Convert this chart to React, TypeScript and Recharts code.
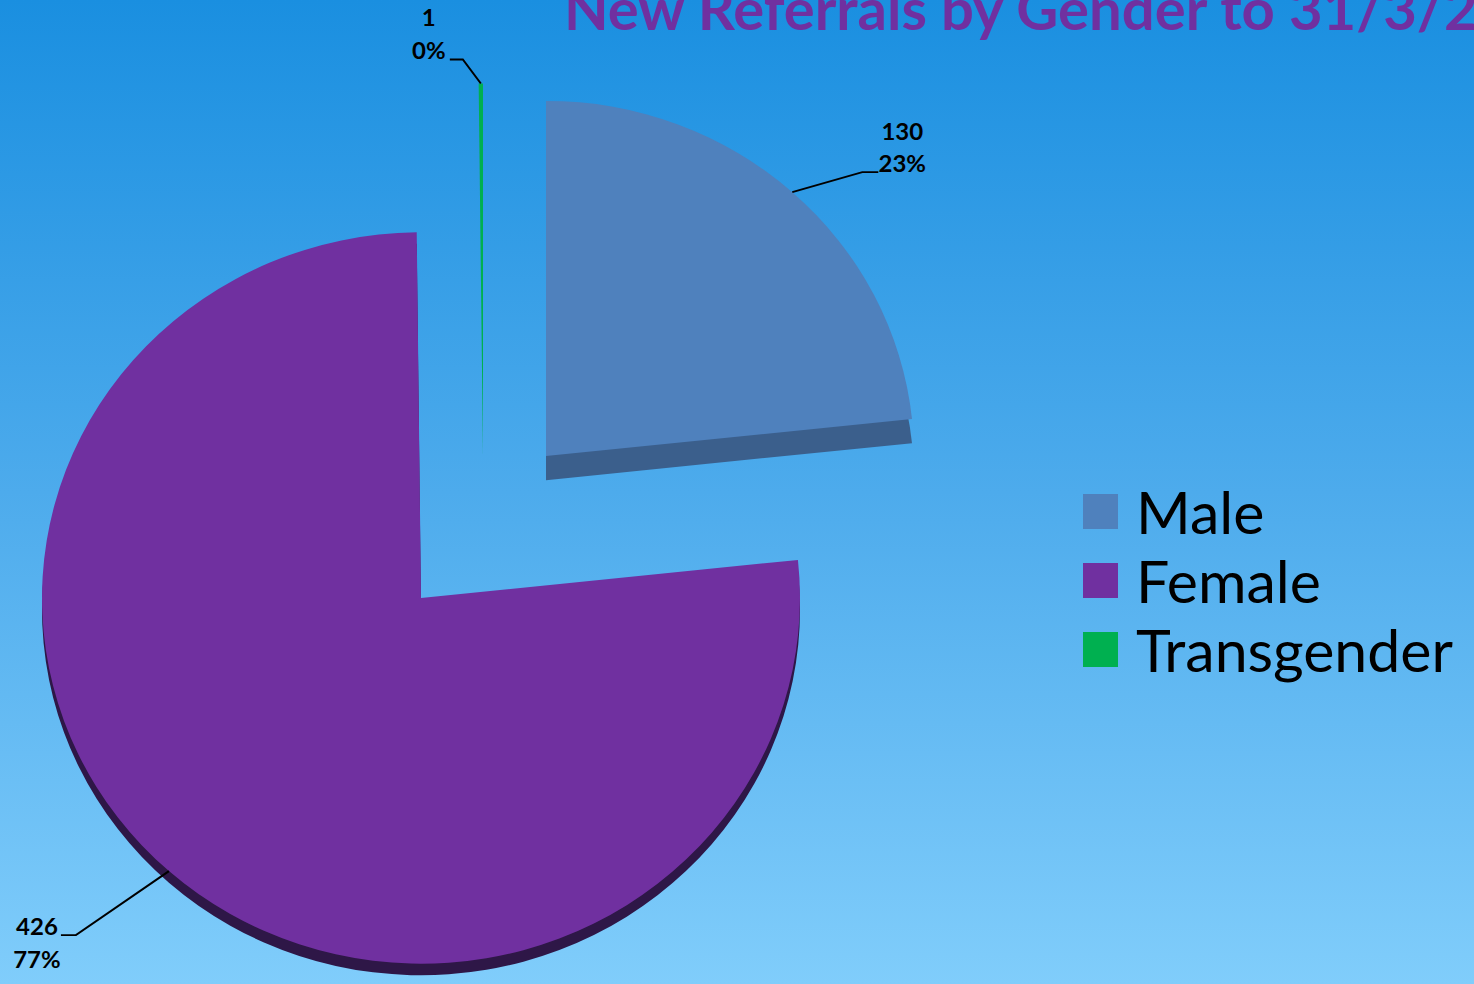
import { PieChart, Pie, Cell } from 'recharts';

const categories = ['Male', 'Female', 'Transgender'];
const counts = [130, 426, 1];
const percentLabels = ['23%', '77%', '0%'];

const colors = ['#4f81bd', '#7030a0', '#00b050'];
const sideColors = ['#3b5f8c', '#2e1747', '#00803c'];

const data = categories.map((name, i) => ({ name, value: counts[i], pct: percentLabels[i] }));

// the 3D tilt is faked by squashing the whole pie a little in y
const TILT = 0.965;
const TILT_ORIGIN = 600;
const PAD = 60; // room above the top so the small labels are not clipped
const unTilt = (y: number) => PAD + TILT_ORIGIN + (y - TILT_ORIGIN) / TILT;

// exploded slices: each one drawn as its own pie, offset from the others
const sliceLayout: Record<string, { cx: number; cy: number; r: number; depth: number }> = {
  Male: { cx: 546, cy: unTilt(456), r: 368, depth: 25 },
  Female: { cx: 421, cy: unTilt(598), r: 379, depth: 12 },
  Transgender: { cx: 483, cy: unTilt(455), r: 385, depth: 0 },
};

// where the dragged data labels sit relative to the slice edge (screen px)
const labelLayout: Record<string, { dx: number; dy: number; run: number; tx: number; lines: number[] }> = {
  Male: { dx: 70, dy: -20, run: 16, tx: 40, lines: [-32, 0] },
  Female: { dx: -93, dy: 64, run: -15, tx: -39, lines: [0, 33] },
  Transgender: { dx: -18, dy: -24, run: -13, tx: -34, lines: [-33, 0] },
};

const RADIAN = Math.PI / 180;
const FONT = 'Lato, "Open Sans", sans-serif';

const makeLabel = (target: string) => (props: any) => {
  const { cx, cy, midAngle, outerRadius, payload } = props;
  const name = payload?.name ?? props.name;
  if (name !== target) return null;
  const lay = labelLayout[name];
  const px = cx + outerRadius * Math.cos(-midAngle * RADIAN);
  const py = cy + outerRadius * Math.sin(-midAngle * RADIAN);
  const ex = px + lay.dx;
  const ey = py + lay.dy / TILT;
  const tx = ex + lay.tx;
  return (
    <g>
      <polyline
        points={`${px},${py} ${ex},${ey} ${ex + lay.run},${ey}`}
        fill="none"
        stroke="#000"
        strokeWidth={2}
      />
      <text x={tx} y={ey + lay.lines[0] / TILT} textAnchor="middle" fontFamily={FONT} fontWeight={700} fontSize={24} fill="#000">
        {payload?.value ?? props.value}
      </text>
      <text x={tx} y={ey + lay.lines[1] / TILT} textAnchor="middle" fontFamily={FONT} fontWeight={700} fontSize={24} fill="#000">
        {payload?.pct}
      </text>
    </g>
  );
};

export default function App() {
  return (
    <div
      style={{
        position: 'absolute',
        top: 0,
        left: 0,
        width: 1474,
        height: 984,
        overflow: 'hidden',
        background: 'linear-gradient(to bottom, #1a8fe0 0%, #4dabec 50%, #80cdfb 100%)',
      }}
    >
      <div
        style={{
          position: 'absolute',
          top: -PAD,
          left: 0,
          transform: `scaleY(${TILT})`,
          transformOrigin: `0 ${TILT_ORIGIN + PAD}px`,
        }}
      >
        <PieChart width={1474} height={1080} margin={{ top: 0, right: 0, bottom: 0, left: 0 }}>
          {/* side faces, drawn first and pushed down */}
          {categories.map((target, i) => {
            const s = sliceLayout[target];
            if (!s.depth) return null;
            return (
              <Pie
                key={`side-${target}`}
                data={data}
                dataKey="value"
                nameKey="name"
                cx={s.cx}
                cy={s.cy + s.depth}
                outerRadius={s.r}
                startAngle={90}
                endAngle={-270}
                stroke="none"
                isAnimationActive={false}
                legendType="none"
              >
                {data.map((d) => (
                  <Cell key={d.name} fill={d.name === target ? sideColors[i] : 'transparent'} />
                ))}
              </Pie>
            );
          })}
          {/* top faces */}
          {categories.map((target, i) => {
            const s = sliceLayout[target];
            return (
              <Pie
                key={`top-${target}`}
                data={data}
                dataKey="value"
                nameKey="name"
                cx={s.cx}
                cy={s.cy}
                outerRadius={s.r}
                startAngle={90}
                endAngle={-270}
                stroke="none"
                isAnimationActive={false}
                legendType="none"
                label={makeLabel(target)}
                labelLine={false}
              >
                {data.map((d) => (
                  <Cell key={d.name} fill={d.name === target ? colors[i] : 'transparent'} />
                ))}
              </Pie>
            );
          })}
        </PieChart>
      </div>
      <div style={{ position: 'absolute', top: 477, left: 1083, fontFamily: FONT }}>
        {categories.map((name, i) => (
          <div key={name} style={{ display: 'flex', alignItems: 'center', height: 69 }}>
            <div style={{ width: 35, height: 35, background: colors[i], marginRight: 18 }} />
            <span style={{ fontSize: 59, lineHeight: '69px', color: '#000', whiteSpace: 'nowrap' }}>{name}</span>
          </div>
        ))}
      </div>
      <svg width={1474} height={984} style={{ position: 'absolute', top: 0, left: 0, pointerEvents: 'none' }}>
        <text x={564} y={30} fontFamily={FONT} fontWeight={700} fontSize={58} fill="#7030a0">
          New Referrals by Gender to 31/3/2
        </text>
      </svg>
    </div>
  );
}
